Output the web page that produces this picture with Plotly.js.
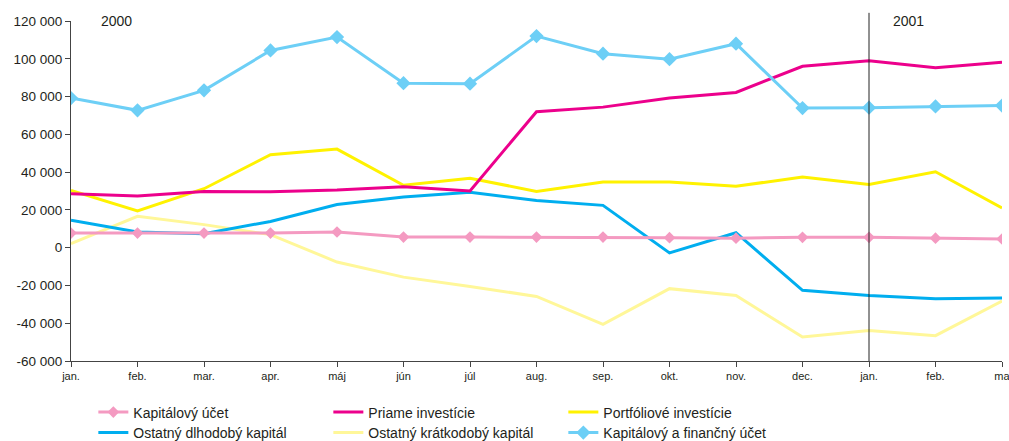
<!DOCTYPE html>
<html>
<head>
<meta charset="utf-8">
<script src="https://cdn.plot.ly/plotly-3.0.1.min.js"></script>
<style>html,body{margin:0;padding:0;background:#fff;}#chart{width:1009px;height:441px;}</style>
</head>
<body>
<div id="chart"></div>
<script>
const months = ["jan.", "feb.", "mar.", "apr.", "máj", "jún", "júl", "aug.", "sep.", "okt.", "nov.", "dec.", "jan.", "feb.", "ma"];
const xIdx = months.map((m, i) => i);

const kapitalovyUcet = [7700, 7700, 7700, 7700, 8300, 5600, 5600, 5600, 5600, 5300, 5000, 5500, 5500, 5000, 4600];
const priameInvesticie = [28600, 27300, 29800, 29600, 30500, 32300, 30000, 72000, 74400, 79200, 82200, 96000, 99000, 95300, 98100];
const portfolioveInvesticie = [30300, 19400, 31200, 49200, 52200, 33000, 36800, 29800, 34700, 34700, 32500, 37400, 33400, 40200, 21000];
const ostatnyDlhodoby = [14500, 8300, 7400, 13900, 22800, 26800, 29300, 25000, 22400, -2800, 7900, -22600, -25300, -27000, -26700];
const ostatnyKratkodoby = [2100, 16600, 12200, 6900, -7600, -15600, -20500, -25800, -40600, -21700, -25300, -47300, -43800, -46600, -28300];
const kapitalovyFinancny = [79200, 72700, 83300, 104400, 111500, 87100, 86800, 112000, 102700, 99800, 108000, 73900, 74100, 74800, 75200];

const yTickVals = [-60000, -40000, -20000, 0, 20000, 40000, 60000, 80000, 100000, 120000];
const yTickText = ["-60 000", "-40 000", "-20 000", "0", "20 000", "40 000", "60 000", "80 000", "100 000", "120 000"];
const yearLabels = ["2000", "2001"];

const txt = "#231f20";
const font = "Liberation Sans, Arial, sans-serif";

const traces = [
  {name: "Kapitálový účet", y: kapitalovyUcet, color: "#f49ac1", marker: true, msize: 9, legend: "legend"},
  {name: "Priame investície", y: priameInvesticie, color: "#ec008c", legend: "legend"},
  {name: "Portfóliové investície", y: portfolioveInvesticie, color: "#fff200", legend: "legend"},
  {name: "Ostatný dlhodobý kapitál", y: ostatnyDlhodoby, color: "#00aeef", legend: "legend2"},
  {name: "Ostatný krátkodobý kapitál", y: ostatnyKratkodoby, color: "#fff799", legend: "legend2"},
  {name: "Kapitálový a finančný účet", y: kapitalovyFinancny, color: "#6dcff6", marker: true, msize: 11, legend: "legend2"}
];

const order = [4, 2, 3, 1, 0, 5];
const data = traces.map((t, i) => {
  const d = {
    type: "scatter",
    x: xIdx,
    y: t.y,
    name: t.name,
    legend: t.legend,
    legendrank: i + 1,
    mode: t.marker ? "lines+markers" : "lines",
    line: {color: t.color, width: 3},
    hoverinfo: "y"
  };
  if (t.marker) d.marker = {symbol: "diamond", size: t.msize, color: t.color};
  return d;
});

const legendCommon = {
  orientation: "h",
  xanchor: "left",
  yanchor: "middle",
  xref: "paper",
  yref: "container",
  entrywidth: 190,
  entrywidthmode: "pixels",
  font: {family: font, size: 14, color: txt},
  bgcolor: "rgba(0,0,0,0)",
  itemwidth: 30
};

const layout = {
  width: 1009,
  height: 441,
  margin: {l: 71, r: 7, t: 21, b: 80},
  paper_bgcolor: "#fff",
  plot_bgcolor: "#fff",
  font: {family: font, color: txt},
  showlegend: true,
  legend: Object.assign({}, legendCommon, {x: 0.024, y: 0.0646}),
  legend2: Object.assign({}, legendCommon, {x: 0.024, y: 0.0181}),
  xaxis: {
    range: [0, 14],
    tickmode: "array",
    tickvals: xIdx,
    ticktext: months,
    ticks: "outside",
    ticklen: 5,
    tickcolor: "#444",
    showline: true,
    linecolor: "#444",
    linewidth: 1,
    showgrid: false,
    zeroline: false,
    automargin: false,
    ticklabeloverflow: "allow",
    tickfont: {family: font, size: 11, color: txt},
    fixedrange: true
  },
  yaxis: {
    range: [-60000, 120000],
    tickmode: "array",
    tickvals: yTickVals,
    ticktext: yTickText,
    ticks: "outside",
    ticklen: 5,
    tickcolor: "#444",
    showline: true,
    linecolor: "#444",
    linewidth: 1,
    showgrid: false,
    zeroline: false,
    automargin: false,
    tickfont: {family: font, size: 13.5, color: txt},
    fixedrange: true
  },
  shapes: [{
    type: "line", xref: "x", yref: "paper",
    x0: 12, x1: 12, y0: 0, y1: 1.024,
    line: {color: "#222", width: 1}
  }],
  annotations: [
    {text: yearLabels[0], x: 0.68, xref: "x", y: 1.0, yref: "paper", showarrow: false, xanchor: "center", yanchor: "middle", font: {family: font, size: 14, color: txt}},
    {text: yearLabels[1], x: 12.59, xref: "x", y: 1.0, yref: "paper", showarrow: false, xanchor: "center", yanchor: "middle", font: {family: font, size: 14, color: txt}}
  ]
};

const ordered = order.map(i => data[i]);

Plotly.newPlot("chart", ordered, layout, {displayModeBar: false, staticPlot: true});
</script>
</body>
</html>
